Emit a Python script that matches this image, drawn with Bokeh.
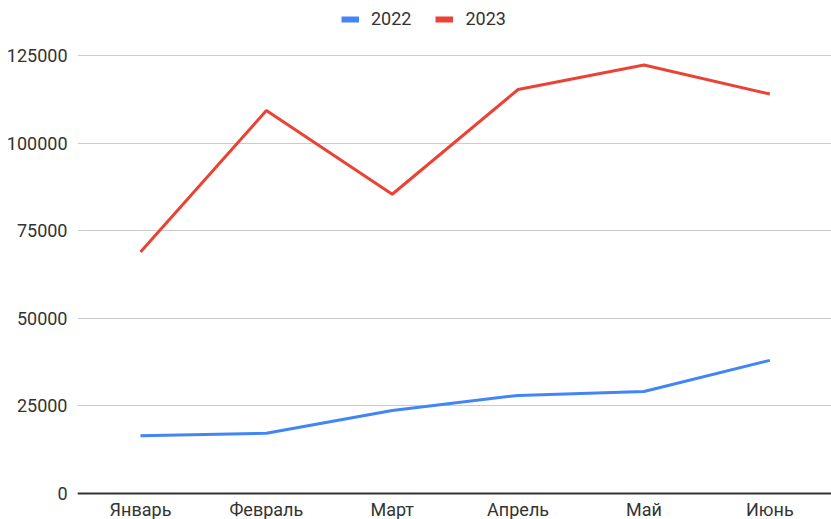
from bokeh.plotting import figure
from bokeh.models import Range1d, FixedTicker, Span, Legend, LegendItem, ColumnDataSource
from bokeh.core.properties import value
from bokeh.embed import file_html
from bokeh.resources import INLINE

categories = ["Январь", "Февраль", "Март", "Апрель", "Май", "Июнь"]
series_names = ["2022", "2023"]
values_2022 = [16500, 17200, 23700, 28000, 29100, 38000]
values_2023 = [68900, 109300, 85400, 115300, 122300, 114000]
y_ticks = [0, 25000, 50000, 75000, 100000, 125000]
y_tick_labels = ["0", "25000", "50000", "75000", "100000", "125000"]

BLUE = "#4285F4"
RED = "#EA4335"
FONT = "Roboto"
FS = "18px"
TEXT = "#333333"

x_idx = list(range(len(categories)))

p = figure(width=831, height=519, output_backend="svg", toolbar_location=None,
           x_range=Range1d(-0.5006, 5.49), y_range=Range1d(-7420, 140696))
p.min_border = 0
p.min_border_left = 77
p.outline_line_color = None
p.background_fill_color = "white"
p.border_fill_color = "white"

p.xaxis.visible = False
p.xgrid.visible = False
p.ygrid.ticker = FixedTicker(ticks=y_ticks)
p.ygrid.grid_line_color = "#cccccc"
p.ygrid.grid_line_width = 1

p.yaxis.ticker = FixedTicker(ticks=y_ticks)
p.yaxis.major_label_overrides = {t: l for t, l in zip(y_ticks, y_tick_labels)}
p.yaxis.axis_line_color = None
p.yaxis.major_tick_line_color = None
p.yaxis.minor_tick_line_color = None
p.yaxis.major_tick_out = 0
p.yaxis.major_tick_in = 0
p.yaxis.minor_tick_out = 0
p.yaxis.minor_tick_in = 0
p.yaxis.major_label_standoff = 10
p.yaxis.major_label_text_font = FONT
p.yaxis.major_label_text_font_size = FS
p.yaxis.major_label_text_color = TEXT

p.add_layout(Span(location=0, dimension="width", line_color="#333333", line_width=2))

src = ColumnDataSource(dict(x=x_idx, y22=values_2022, y23=values_2023, cat=categories))
p.line("x", "y22", source=src, line_color=BLUE, line_width=3)
p.line("x", "y23", source=src, line_color=RED, line_width=3)

p.text(x="x", y=0, text="cat", source=src, text_align="center", text_baseline="top",
       y_offset=5, text_font=value(FONT), text_font_size=FS, text_color=TEXT)

# legend swatches (renderers that draw nothing in the plot)
nan = float("nan")
swatch = ColumnDataSource(dict(x=[nan], y=[nan]))
l22 = p.line("x", "y", source=swatch, line_color=BLUE, line_width=6)
l23 = p.line("x", "y", source=swatch, line_color=RED, line_width=6)

legend = Legend(items=[LegendItem(label=series_names[0], renderers=[l22]),
                       LegendItem(label=series_names[1], renderers=[l23])],
                location=(264, 490), orientation="horizontal")
legend.padding = 0
legend.margin = 0
legend.border_line_color = None
legend.background_fill_alpha = 0
legend.glyph_width = 18
legend.glyph_height = 20
legend.label_height = 20
legend.label_standoff = 12
legend.spacing = 24
legend.label_text_font = FONT
legend.label_text_font_size = FS
legend.label_text_color = TEXT
p.add_layout(legend, "center")

open("out.html", "w").write(file_html(p, INLINE))
